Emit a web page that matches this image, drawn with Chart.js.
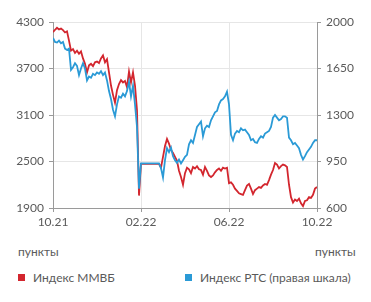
<!DOCTYPE html>
<html>
<head>
<meta charset="utf-8">
<script src="https://cdn.jsdelivr.net/npm/chart.js@4"></script>
<style>
  html, body { margin: 0; padding: 0; background: #fff; }
  #wrap { position: relative; width: 371px; height: 302px; overflow: hidden; font-family: Lato, "Noto Sans", sans-serif; color: #5a5a5a; }
  #cv { position: absolute; left: 0; top: 0; }
  .unit { position: absolute; top: 244px; font-size: 12px; line-height: 16px; }
  .leg { position: absolute; top: 270px; font-size: 12px; line-height: 16px; white-space: nowrap; }
  .sw { display: inline-block; width: 7px; height: 7px; margin-right: 8px; vertical-align: 1px; }
</style>
</head>
<body>
<div id="wrap">
  <canvas id="cv" width="371" height="240"></canvas>
  <div class="unit" style="left:18px">пункты</div>
  <div class="unit" style="left:315px">пункты</div>
  <div class="leg" style="left:18px"><span class="sw" style="background:#d3262e"></span>Индекс ММВБ</div>
  <div class="leg" style="left:185px"><span class="sw" style="background:#2a9ad6"></span>Индекс РТС (правая шкала)</div>
</div>
<script>
const xTickLabels = ["10.21", "02.22", "06.22", "10.22"];
const moexLabel = "Индекс ММВБ";
const rtsLabel = "Индекс РТС (правая шкала)";

const moex = [
  4170, 4200, 4225, 4205, 4215, 4195, 4165, 4180, 4060, 3930,
  3950, 3900, 3930, 3890, 3920, 3830, 3760, 3650, 3740, 3760,
  3730, 3780, 3790, 3770, 3830, 3870, 3780, 3820, 3650, 3480,
  3360, 3260, 3420, 3500, 3550, 3520, 3540, 3460, 3660, 3520,
  3650, 3480, 3160, 2060, 2470, 2470, 2470, 2470, 2470, 2470,
  2470, 2470, 2470, 2470, 2420, 2560, 2700, 2790, 2730, 2650,
  2610, 2560, 2510, 2380, 2300, 2200, 2350, 2420, 2400, 2350,
  2430, 2410, 2440, 2400, 2390, 2330, 2430, 2380, 2320, 2300,
  2320, 2360, 2390, 2410, 2380, 2420, 2410, 2420, 2220, 2230,
  2200, 2150, 2120, 2090, 2080, 2070, 2130, 2190, 2210, 2150,
  2080, 2130, 2150, 2170, 2160, 2190, 2210, 2200, 2260, 2330,
  2390, 2480, 2460, 2410, 2440, 2460, 2450, 2430, 2200, 2040,
  1970, 2010, 1990, 2020, 1960, 1925, 1990, 2000, 2040, 2030,
  2070, 2150, 2170
];

const rts = [
  1880, 1850, 1845, 1860, 1840, 1850, 1800, 1790, 1800, 1640,
  1660, 1690, 1670, 1600, 1650, 1690, 1650, 1560, 1590, 1580,
  1610, 1600, 1620, 1610, 1630, 1600, 1620, 1560, 1480, 1420,
  1340, 1290, 1380, 1440, 1430, 1460, 1440, 1480, 1550, 1440,
  1520, 1380, 1210, 745, 936, 936, 936, 936, 936, 936,
  936, 936, 936, 936, 900, 830, 960, 1050, 1020, 1055,
  990, 960, 940, 965, 935, 960, 985, 1000, 1080, 1110,
  1090, 1150, 1210, 1230, 1250, 1140, 1200, 1220, 1210, 1260,
  1290, 1320, 1330, 1380, 1410, 1420, 1440, 1475, 1380, 1150,
  1110, 1160, 1180, 1170, 1200, 1185, 1190, 1170, 1150, 1110,
  1120, 1095, 1090, 1120, 1140, 1130, 1160, 1170, 1180, 1210,
  1280, 1300, 1280, 1260, 1270, 1290, 1290, 1280, 1130, 1110,
  1080, 1090, 1070, 1050, 1000, 965, 990, 1020, 1040, 1060,
  1090, 1110, 1110
];

const lastIndex = moex.length - 1;
const tickStep = lastIndex / (xTickLabels.length - 1);
const toPts = arr => arr.map((v, i) => ({ x: i, y: v }));

const gridColor = "#e6e6e6";
const axisColor = "#9a9a9a";
const tickFont = { family: "Lato, 'Noto Sans', sans-serif", size: 12 };
const tickColor = "#5a5a5a";

new Chart(document.getElementById("cv"), {
  type: "line",
  data: {
    datasets: [
      { label: rtsLabel, data: toPts(rts), yAxisID: "yR", borderColor: "#2a9ad6", borderWidth: 1.8, pointRadius: 0, tension: 0, fill: false },
      { label: moexLabel, data: toPts(moex), yAxisID: "yL", borderColor: "#d3262e", borderWidth: 1.8, pointRadius: 0, tension: 0, fill: false }
    ]
  },
  options: {
    responsive: false,
    animation: false,
    layout: { padding: { top: 22, left: 0, right: 0, bottom: 0 } },
    plugins: { legend: { display: false }, tooltip: { enabled: false } },
    scales: {
      x: {
        type: "linear", min: 0, max: lastIndex,
        afterFit: s => { s.height = 32; },
        ticks: { stepSize: tickStep, autoSkip: false, maxRotation: 0, font: tickFont, color: tickColor, padding: 3,
          callback: v => xTickLabels[Math.round(v / tickStep)] },
        grid: { color: gridColor, tickColor: axisColor, tickLength: 4 },
        border: { color: axisColor, width: 1 }
      },
      yL: {
        position: "left", min: 1900, max: 4300,
        afterFit: s => { s.width = 53; },
        ticks: { stepSize: 600, font: tickFont, color: tickColor, padding: 5, callback: v => String(v) },
        grid: { color: gridColor, tickColor: axisColor, tickLength: 4 },
        border: { color: axisColor, width: 1 }
      },
      yR: {
        position: "right", min: 600, max: 2000,
        afterFit: s => { s.width = 54; },
        ticks: { stepSize: 350, font: tickFont, color: tickColor, padding: 5, callback: v => String(v) },
        grid: { drawOnChartArea: false, tickColor: axisColor, tickLength: 4 },
        border: { color: axisColor, width: 1 }
      }
    }
  }
});
</script>
</body>
</html>
